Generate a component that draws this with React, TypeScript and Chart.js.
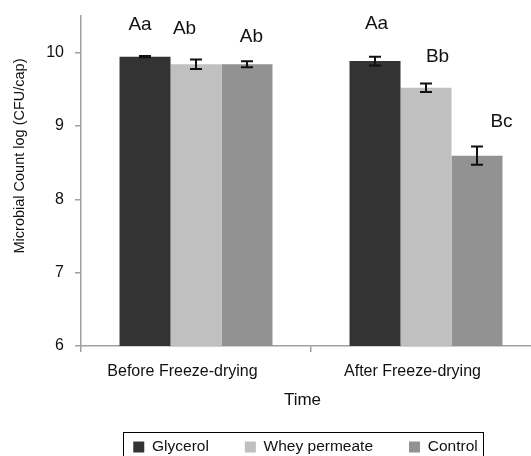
import React, { useEffect, useRef } from "react";
import { Chart, registerables } from "chart.js";

Chart.register(...registerables);

const categories = ["Before Freeze-drying", "After Freeze-drying"];
const seriesNames = ["Glycerol", "Whey permeate", "Control"];
const glycerol = [9.945, 9.886];
const wheyPermeate = [9.842, 9.521];
const control = [9.842, 8.595];
const glycerolErr = [0.008, 0.06];
const wheyPermeateErr = [0.065, 0.058];
const controlErr = [0.04, 0.124];
const glycerolLetters = ["Aa", "Aa"];
const wheyPermeateLetters = ["Ab", "Bb"];
const controlLetters = ["Ab", "Bc"];
const yTicks = [6, 7, 8, 9, 10];
const yMin = 6;
const yMax = 10.5;
const xTitle = "Time";
const yTitle = "Microbial Count log (CFU/cap)";

const FONT = "'Liberation Sans', Arial, Helvetica, sans-serif";
const colors = ["#333333", "#c0c0c0", "#929292"];
const axisColor = "#a0a0a0";

// label nudges [dx, dy] relative to bar centre / error-bar top, per dataset per category
const letterNudges = [
  [[-5, -31], [1.5, -33]],
  [[-11.5, -31], [11.5, -27]],
  [[4.5, -25], [24.5, -25]],
];

export default function App() {
  const ref = useRef<HTMLCanvasElement | null>(null);

  useEffect(() => {
    if (!ref.current) return;
    const values = [glycerol, wheyPermeate, control];
    const errs = [glycerolErr, wheyPermeateErr, controlErr];
    const letters = [glycerolLetters, wheyPermeateLetters, controlLetters];

    const errorBars = {
      id: "errorBars",
      afterDatasetsDraw(chart: any) {
        const ctx = chart.ctx;
        const ys = chart.scales.y;
        ctx.save();
        ctx.strokeStyle = "#111";
        ctx.lineWidth = 2;
        values.forEach((vals, i) => {
          const meta = chart.getDatasetMeta(i);
          meta.data.forEach((bar: any, j: number) => {
            const x = bar.x;
            const t = ys.getPixelForValue(vals[j] + errs[i][j]);
            const b = ys.getPixelForValue(vals[j] - errs[i][j]);
            ctx.beginPath();
            ctx.moveTo(x, t);
            ctx.lineTo(x, b);
            ctx.moveTo(x - 6, t);
            ctx.lineTo(x + 6, t);
            ctx.moveTo(x - 6, b);
            ctx.lineTo(x + 6, b);
            ctx.stroke();
          });
        });
        ctx.fillStyle = "#111";
        ctx.font = `19px ${FONT}`;
        ctx.textAlign = "center";
        ctx.textBaseline = "middle";
        values.forEach((vals, i) => {
          const meta = chart.getDatasetMeta(i);
          meta.data.forEach((bar: any, j: number) => {
            const t = ys.getPixelForValue(vals[j] + errs[i][j]);
            const [dx, dy] = letterNudges[i][j];
            ctx.fillText(letters[i][j], bar.x + dx, t + dy);
          });
        });
        ctx.restore();
      },
    };

    const decorations = {
      id: "decorations",
      afterLayout(chart: any) {
        const lg = chart.legend;
        if (lg) {
          lg.left += 35;
          lg.right += 35;
        }
      },
      afterDraw(chart: any) {
        const ctx = chart.ctx;
        ctx.save();
        ctx.fillStyle = "#111";
        ctx.textAlign = "center";
        ctx.textBaseline = "middle";
        ctx.font = `17px ${FONT}`;
        ctx.fillText(xTitle, 302.5, 400);
        ctx.translate(20, 156);
        ctx.rotate(-Math.PI / 2);
        ctx.font = `14.5px ${FONT}`;
        ctx.fillText(yTitle, 0, 0);
        ctx.restore();
        const lg = chart.legend;
        if (lg && lg.legendHitBoxes && lg.legendHitBoxes.length) {
          const hb = lg.legendHitBoxes;
          const first = hb[0];
          const last = hb[hb.length - 1];
          const left = first.left - 10;
          const right = last.left + last.width + 6;
          const top = first.top - 7.5;
          ctx.save();
          ctx.strokeStyle = "#000";
          ctx.lineWidth = 1;
          ctx.strokeRect(Math.round(left) + 0.5, Math.round(top) + 0.5, Math.round(right - left), 30);
          ctx.restore();
        }
      },
    };

    const chart = new Chart(ref.current, {
      type: "bar",
      data: {
        labels: categories,
        datasets: seriesNames.map((name, i) => ({
          label: name,
          data: [glycerol, wheyPermeate, control][i],
          backgroundColor: colors[i],
          borderWidth: 0,
          categoryPercentage: 0.665,
          barPercentage: 1.0,
        })),
      },
      options: {
        animation: false,
        responsive: false,
        devicePixelRatio: 1,
        events: [],
        layout: { padding: { left: 0, right: 19, top: 16, bottom: 15.25 } },
        plugins: {
          tooltip: { enabled: false },
          title: { display: false },
          legend: {
            position: "bottom",
            labels: {
              boxWidth: 11,
              boxHeight: 11,
              padding: 36,
              color: "#111",
              font: { family: FONT, size: 15.5 },
            },
          },
        },
        scales: {
          x: {
            type: "category",
            offset: true,
            afterFit(scale: any) {
              scale.height = 57.25;
            },
            grid: {
              display: true,
              drawOnChartArea: false,
              drawTicks: true,
              tickLength: 6,
              color: axisColor,
              lineWidth: 1.5,
              offset: true,
            },
            border: { display: true, color: axisColor, width: 1.5 },
            ticks: {
              color: "#111",
              font: { family: FONT, size: 16 },
              padding: 10,
              labelOffset: -13.5,
              maxRotation: 0,
            },
          },
          y: {
            type: "linear",
            min: yMin,
            max: yMax,
            afterFit(scale: any) {
              scale.width = 81;
              scale.paddingTop = 0;
              scale.paddingBottom = 0;
            },
            afterBuildTicks(scale: any) {
              scale.ticks = yTicks.map((v) => ({ value: v }));
            },
            grid: {
              display: true,
              drawOnChartArea: false,
              drawTicks: true,
              tickLength: 6,
              color: axisColor,
              lineWidth: 1.5,
            },
            border: { display: true, color: axisColor, width: 1.5 },
            ticks: {
              color: "#111",
              font: { family: FONT, size: 16 },
              padding: 11,
              includeBounds: false,
            },
          },
        },
      },
      plugins: [errorBars, decorations],
    } as any);

    return () => chart.destroy();
  }, []);

  return (
    <div
      style={{
        position: "absolute",
        left: 0,
        top: 0,
        width: 531,
        height: 456,
        overflow: "hidden",
        background: "#fff",
      }}
    >
      <canvas ref={ref} width={560} height={480} style={{ display: "block" }} />
    </div>
  );
}
